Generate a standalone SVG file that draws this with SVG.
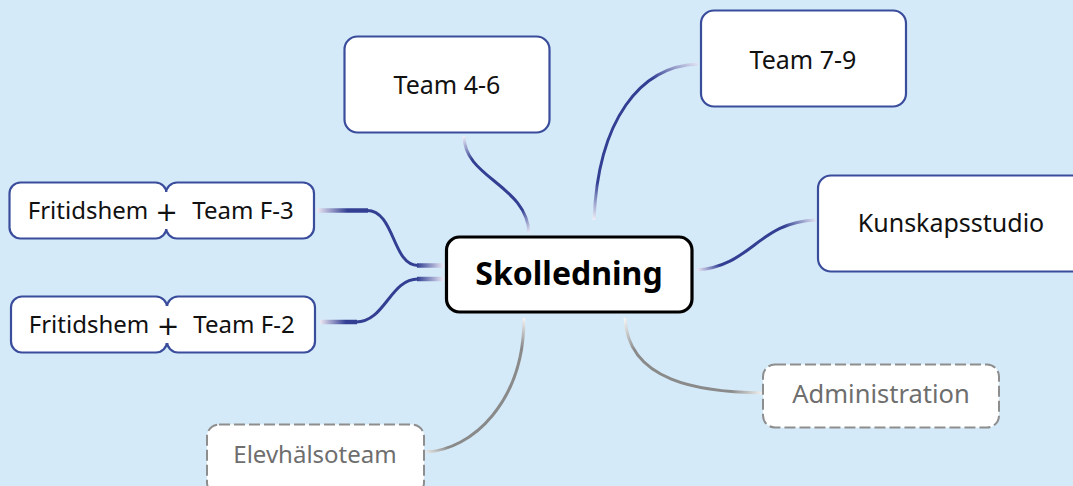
<svg xmlns="http://www.w3.org/2000/svg" width="1073" height="486" viewBox="0 0 1073 486">
<style>
.bg{fill:#d4eaf8}
.box{fill:#ffffff;stroke:#3a4c9c;stroke-width:2.2}
.dash{fill:#ffffff;stroke:#8e8e8e;stroke-width:2;stroke-dasharray:11 4}
.center{fill:#ffffff;stroke:#000000;stroke-width:3.2}
.t{font-family:"Noto Sans","Open Sans","Liberation Sans",sans-serif;font-size:25px;fill:#111111;text-anchor:middle}
.tg{font-family:"Noto Sans","Open Sans","Liberation Sans",sans-serif;font-size:24px;fill:#6e6e6e;text-anchor:middle}
.tc{font-family:"Noto Sans","Open Sans","Liberation Sans",sans-serif;font-size:32px;font-weight:bold;fill:#000000;text-anchor:middle}
.plus{font-family:"DejaVu Sans","Noto Sans",sans-serif;font-size:27px;fill:#111111;text-anchor:middle}
.c{fill:none;stroke-width:3;stroke-linecap:butt}
.h{fill:none;stroke-width:4.5}
</style>
<defs>
<linearGradient id="g46" gradientUnits="userSpaceOnUse" x1="464" y1="137" x2="529" y2="233">
<stop offset="0" stop-color="#e8eaf6"/><stop offset="0.2" stop-color="#323f93"/><stop offset="0.8" stop-color="#323f93"/><stop offset="1" stop-color="#e8eaf6"/>
</linearGradient>
<linearGradient id="g79" gradientUnits="userSpaceOnUse" x1="594" y1="220" x2="698" y2="64">
<stop offset="0" stop-color="#f0f0f8"/><stop offset="0.18" stop-color="#323f93"/><stop offset="0.8" stop-color="#323f93"/><stop offset="1" stop-color="#e0e2f2"/>
</linearGradient>
<linearGradient id="gk" gradientUnits="userSpaceOnUse" x1="697" y1="270" x2="816" y2="220">
<stop offset="0" stop-color="#eceaf6"/><stop offset="0.18" stop-color="#323f93"/><stop offset="0.75" stop-color="#323f93"/><stop offset="1" stop-color="#e0e2f2"/>
</linearGradient>
<linearGradient id="gl1" gradientUnits="userSpaceOnUse" x1="317" y1="0" x2="368" y2="0">
<stop offset="0" stop-color="#ece8f4"/><stop offset="0.6" stop-color="#323f93"/><stop offset="1" stop-color="#323f93"/>
</linearGradient>
<linearGradient id="gl2" gradientUnits="userSpaceOnUse" x1="320" y1="0" x2="357" y2="0">
<stop offset="0" stop-color="#ece8f4"/><stop offset="0.7" stop-color="#323f93"/><stop offset="1" stop-color="#323f93"/>
</linearGradient>
<linearGradient id="gr" gradientUnits="userSpaceOnUse" x1="417" y1="0" x2="444" y2="0">
<stop offset="0" stop-color="#323f93"/><stop offset="1" stop-color="#ecebf6"/>
</linearGradient>
<linearGradient id="ge" gradientUnits="userSpaceOnUse" x1="524" y1="318" x2="426" y2="452">
<stop offset="0" stop-color="#f4f4f4"/><stop offset="0.15" stop-color="#8a8a8a"/><stop offset="0.9" stop-color="#8a8a8a"/><stop offset="1" stop-color="#e6e6e6"/>
</linearGradient>
<linearGradient id="ga" gradientUnits="userSpaceOnUse" x1="625" y1="318" x2="762" y2="393">
<stop offset="0" stop-color="#f4f4f4"/><stop offset="0.15" stop-color="#8a8a8a"/><stop offset="0.82" stop-color="#8a8a8a"/><stop offset="1" stop-color="#f0f0f0"/>
</linearGradient>
</defs>
<rect class="bg" x="0" y="0" width="1073" height="486"/>
<g id="connectors">
<path class="c" stroke="url(#g46)" d="M464,136 C464,178 527,185 529,233"/>
<path class="c" stroke="url(#g79)" d="M594,220 C598,120 640,66 698,64"/>
<path class="c" stroke="url(#gk)" d="M697,270 C752,266 758,222 816,220"/>
<line class="h" stroke="url(#gl1)" x1="317" y1="210.5" x2="368" y2="210.5"/>
<path class="c" stroke="#323f93" d="M367,210.5 C395,210.5 392,265.5 418,265.5"/>
<line class="h" stroke="url(#gr)" x1="417" y1="265.5" x2="444" y2="265.5"/>
<line class="h" stroke="url(#gl2)" x1="320" y1="322" x2="357" y2="322"/>
<path class="c" stroke="#323f93" d="M356,322 C385,322 390,279 418,279"/>
<line class="h" stroke="url(#gr)" x1="417" y1="279" x2="444" y2="279"/>
<path class="c" stroke="url(#ge)" d="M524,318 C524,402 472,450 426,452"/>
<path class="c" stroke="url(#ga)" d="M625,318 C628,382 700,392 762,393"/>
</g>
<g id="node-team46">
<rect class="box" x="344.5" y="36.5" width="205" height="96" rx="13"/>
<text class="t" x="447" y="94">Team 4-6</text>
</g>
<g id="node-team79">
<rect class="box" x="701" y="10.5" width="205" height="96" rx="13"/>
<text class="t" x="803" y="69">Team 7-9</text>
</g>
<g id="node-kunskapsstudio">
<rect class="box" x="818" y="175.5" width="270" height="96" rx="13"/>
<text class="t" x="951" y="232">Kunskapsstudio</text>
</g>
<g id="node-f3">
<rect class="box" x="9.5" y="182.5" width="157" height="56" rx="11"/>
<rect class="box" x="166" y="182.5" width="148" height="56" rx="11"/>
<rect x="161" y="192" width="10" height="37" fill="#ffffff"/>
<text class="t" x="88" y="219" style="font-size:24px">Fritidshem</text>
<text class="plus" x="166.5" y="221">+</text>
<text class="t" x="243" y="219" style="font-size:24px">Team F-3</text>
</g>
<g id="node-f2">
<rect class="box" x="11" y="296.5" width="156" height="56" rx="11"/>
<rect class="box" x="167" y="296.5" width="148" height="56" rx="11"/>
<rect x="162" y="306" width="10" height="37" fill="#ffffff"/>
<text class="t" x="89" y="333" style="font-size:24px">Fritidshem</text>
<text class="plus" x="168" y="335">+</text>
<text class="t" x="244" y="333" style="font-size:24px">Team F-2</text>
</g>
<g id="node-elevhalsoteam">
<rect class="dash" x="207" y="424.5" width="217" height="70" rx="12"/>
<text class="tg" x="315" y="463">Elevhälsoteam</text>
</g>
<g id="node-administration">
<rect class="dash" x="763" y="364.5" width="236" height="63" rx="12"/>
<text class="tg" x="881" y="403" style="font-size:25.5px">Administration</text>
</g>
<g id="node-skolledning">
<rect class="center" x="446.5" y="237" width="245.5" height="75" rx="13"/>
<text class="tc" x="569" y="285">Skolledning</text>
</g>
</svg>
